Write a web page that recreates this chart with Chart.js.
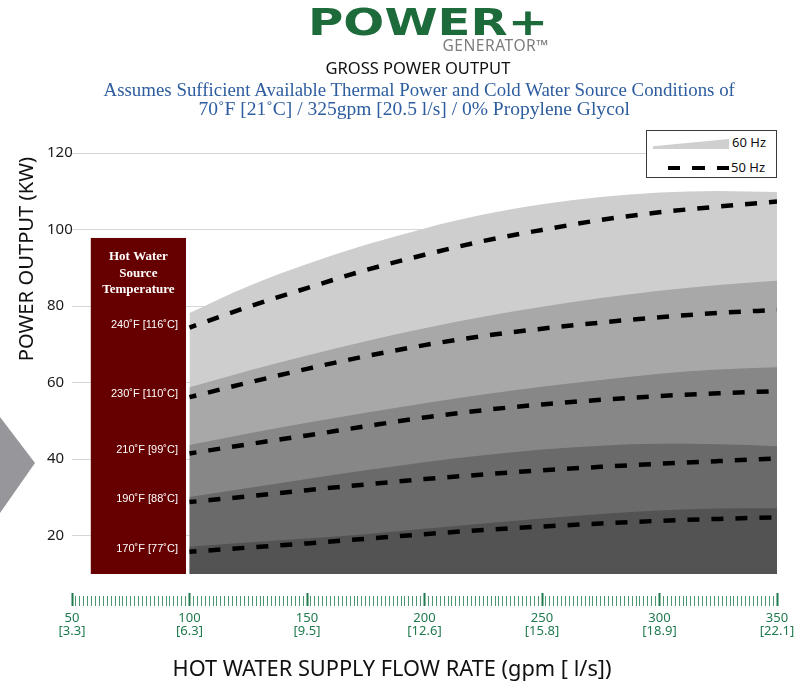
<!DOCTYPE html>
<html>
<head>
<meta charset="utf-8">
<script src="https://cdn.jsdelivr.net/npm/chart.js@4.4.1/dist/chart.umd.min.js"></script>
<style>
  html, body { margin: 0; padding: 0; background: #fff; }
  #wrap { position: relative; width: 804px; height: 684px; overflow: hidden; }
  #chart { position: absolute; left: 0; top: 0; }
  .txt { position: absolute; white-space: nowrap; line-height: 1; font-family: 'Noto Sans', sans-serif; }
  #logo { font-family: 'DejaVu Sans', sans-serif; font-weight: bold; font-size: 38px; color: #1d6b3b; transform-origin: 0 0; }
  #gen { color: #7d7d7d; font-size: 15px; letter-spacing: 0.5px; }
  #title { color: #111; font-size: 16px; }
  #sub1, #sub2 { color: #2d5d9f; font-family: 'Liberation Serif', serif; font-size: 17px; }
  #ytitle, #xtitle { color: #111; font-size: 20px; }
  #arrow { position: absolute; left: 0; top: 417px; width: 35px; height: 96px; background: #97979b;
    clip-path: polygon(0 0, 100% 48%, 0 100%); }
  #legend { position: absolute; left: 646px; top: 130px; width: 129px; height: 46px; background: #fff; border: 1px solid #3a3a3a; }
  #legend .lbl { position: absolute; font-family: 'Noto Sans', sans-serif; font-size: 13px; line-height: 1; color: #111; }
  #wedge { position: absolute; left: 6px; top: 8px; width: 76px; height: 10px; background: #cfcfcf;
    clip-path: polygon(0 72%, 100% 0, 100% 100%, 0 100%); }
  #dash { position: absolute; left: 21px; top: 35px; width: 62px; height: 4px;
    background: repeating-linear-gradient(to right, #000 0 12.5px, transparent 12.5px 24.5px); }
</style>
</head>
<body>
<div id="wrap">
  <canvas id="chart" width="804" height="684"></canvas>
  <div id="arrow"></div>
  <div id="logo" class="txt">POWER+</div>
  <div id="gen" class="txt">GENERATOR™</div>
  <div id="title" class="txt">GROSS POWER OUTPUT</div>
  <div id="sub1" class="txt">Assumes Sufficient Available Thermal Power and Cold Water Source Conditions of</div>
  <div id="sub2" class="txt">70˚F [21˚C] / 325gpm [20.5 l/s] / 0% Propylene Glycol</div>
  <div id="ytitle" class="txt">POWER OUTPUT (KW)</div>
  <div id="xtitle" class="txt">HOT WATER SUPPLY FLOW RATE (gpm [ l/s])</div>
  <div id="legend">
    <div id="wedge"></div>
    <div class="lbl" style="left:85px; top:5px">60 Hz</div>
    <div id="dash"></div>
    <div class="lbl" style="left:84px; top:30px">50 Hz</div>
  </div>
</div>
<script>
// flow rate (gpm) where the curves were read
const flowGpm = [100, 125, 150, 175, 200, 225, 250, 275, 300, 325, 350]
const temps = ['240˚F [116˚C]', '230˚F [110˚C]', '210˚F [99˚C]', '190˚F [88˚C]', '170˚F [77˚C]']

// 60 Hz (shaded bands), kW
const hz60_240 = [78.2, 85.2, 91.0, 96.0, 100.3, 103.9, 106.6, 108.5, 109.7, 110.1, 109.8]
const hz60_230 = [58.8, 63.1, 67.1, 70.8, 74.2, 77.2, 79.8, 82.1, 84.0, 85.5, 86.6]
const hz60_210 = [43.7, 46.7, 49.5, 52.1, 54.6, 56.9, 58.9, 60.7, 62.3, 63.4, 64.0]
const hz60_190 = [30.1, 32.5, 34.8, 37.1, 39.2, 41.0, 42.5, 43.5, 44.0, 43.9, 43.4]
const hz60_170 = [17.1, 18.2, 19.3, 20.4, 21.8, 23.2, 24.5, 25.7, 26.6, 27.1, 27.2]

// 50 Hz (dashed lines), kW
const hz50_240 = [74.4, 79.8, 84.7, 89.4, 93.4, 97.0, 99.9, 102.5, 104.5, 106.0, 107.3]
const hz50_230 = [56.2, 60.0, 63.6, 66.9, 69.8, 72.2, 74.1, 75.7, 77.1, 78.2, 79.0]
const hz50_210 = [41.5, 43.9, 46.2, 48.6, 50.9, 52.8, 54.3, 55.5, 56.5, 57.2, 57.8]
const hz50_190 = [28.8, 30.3, 31.9, 33.4, 34.8, 36.0, 37.1, 38.0, 38.8, 39.5, 40.2]
const hz50_170 = [15.8, 16.9, 18.0, 19.2, 20.4, 21.5, 22.4, 23.2, 23.9, 24.4, 24.8]

const yTicks = [20, 40, 60, 80, 100, 120]
const xMajor = [50, 100, 150, 200, 250, 300, 350]
const xMajorLps = ['[3.3]', '[6.3]', '[9.5]', '[12.6]', '[15.8]', '[18.9]', '[22.1]']

const hz60 = [hz60_240, hz60_230, hz60_210, hz60_190, hz60_170]
const hz50 = [hz50_240, hz50_230, hz50_210, hz50_190, hz50_170]
const greys = ['#cecece', '#a8a8a8', '#878787', '#6a6a6a', '#535353']
const green = '#1f7a4e'

const toPoints = s => s.map((v, j) => ({ x: flowGpm[j], y: v }))

const datasets = []
hz60.forEach((s, i) => datasets.push({
  label: '60 Hz ' + temps[i],
  data: toPoints(s),
  backgroundColor: greys[i],
  borderColor: 'rgba(0,0,0,0)',
  borderWidth: 0,
  fill: 'start',
  pointRadius: 0,
  cubicInterpolationMode: 'monotone',
  order: 10 - i
}))
hz50.forEach((s, i) => datasets.push({
  label: '50 Hz ' + temps[i],
  data: toPoints(s),
  borderColor: '#000',
  borderWidth: 4.5,
  borderDash: [12, 12],
  borderDashOffset: 5,
  fill: false,
  pointRadius: 0,
  cubicInterpolationMode: 'monotone',
  order: 0
}))

// dark red "Hot Water Source Temperature" block
const tempBox = {
  id: 'tempBox',
  afterDraw(chart) {
    const { ctx } = chart
    const x = chart.scales.x
    const y = chart.scales.y
    const left = x.getPixelForValue(58)
    const right = x.getPixelForValue(98.5)
    const top = y.getPixelForValue(97.8)
    const bottom = y.getPixelForValue(10)
    ctx.save()
    ctx.fillStyle = '#660000'
    ctx.fillRect(left, top, right - left, bottom - top)
    ctx.fillStyle = '#fff'
    ctx.textAlign = 'center'
    ctx.textBaseline = 'middle'
    ctx.font = 'bold 13px "Liberation Serif", serif'
    const head = ['Hot Water', 'Source', 'Temperature']
    head.forEach((t, i) => ctx.fillText(t, (left + right) / 2, top + 18.5 + i * 16.7))
    ctx.textAlign = 'right'
    ctx.font = '11px "Liberation Sans", sans-serif'
    hz50.forEach((s, i) => ctx.fillText(temps[i], right - 8, y.getPixelForValue(s[0]) - 3))
    ctx.restore()
  }
}

new Chart(document.getElementById('chart'), {
  type: 'line',
  data: { datasets },
  options: {
    responsive: false,
    animation: false,
    devicePixelRatio: 1,
    layout: { padding: { top: 153, left: 47, right: 27, bottom: 0 } },
    plugins: { legend: { display: false }, tooltip: { enabled: false } },
    scales: {
      x: {
        type: 'linear',
        min: 50,
        max: 350,
        afterBuildTicks: s => {
          s.ticks = []
          for (let i = 0; i <= 180; i++) s.ticks.push({ value: (150 + 5 * i) / 3, major: i % 30 === 0 })
        },
        afterFit: s => { s.height = 110 },
        border: { display: false },
        grid: {
          drawOnChartArea: false,
          drawTicks: true,
          tickLength: 32,
          tickColor: c => c.tick && c.tick.major ? green : 'rgba(31,122,78,0.8)',
          tickWidth: c => c.tick && c.tick.major ? 2 : 1,
          tickBorderDash: c => c.tick && c.tick.major ? [0, 19, 13] : [0, 22, 6]
        },
        ticks: {
          autoSkip: false,
          maxRotation: 0,
          padding: 6,
          color: green,
          font: { family: 'Noto Sans', size: 13, lineHeight: 1 },
          callback: (v, i) => i % 30 === 0 ? [String(xMajor[i / 30]), xMajorLps[i / 30]] : ''
        }
      },
      y: {
        min: 10,
        max: 120,
        z: 1,
        afterBuildTicks: s => { s.ticks = yTicks.map(v => ({ value: v })) },
        afterFit: s => { s.width = 25 },
        border: { display: false },
        grid: { color: 'rgba(0,0,0,0.16)', drawTicks: false },
        ticks: { crossAlign: 'far', padding: 0, color: '#1a1a1a', font: { family: 'Noto Sans', size: 15 } }
      }
    }
  },
  plugins: [tempBox]
})

// place header / axis titles by measured width
const fit = (id, cx, cy, w) => {
  const el = document.getElementById(id)
  const base = parseFloat(getComputedStyle(el).fontSize)
  el.style.fontSize = (base * w / el.offsetWidth) + 'px'
  el.style.left = (cx - el.offsetWidth / 2) + 'px'
  el.style.top = (cy - el.offsetHeight / 2) + 'px'
}
fit('title', 418, 68, 185)
fit('sub1', 419, 90, 632)
fit('sub2', 414, 109, 432)
fit('xtitle', 392, 668, 439)
fit('ytitle', 25, 259, 204)
document.getElementById('ytitle').style.transform = 'rotate(-90deg)'
fit('gen', 495.5, 45.5, 107)

const logo = document.getElementById('logo')
logo.style.left = '308px'
logo.style.top = '3px'
logo.style.transform = 'scaleX(' + (240 / logo.offsetWidth) + ')'
</script>
</body>
</html>
